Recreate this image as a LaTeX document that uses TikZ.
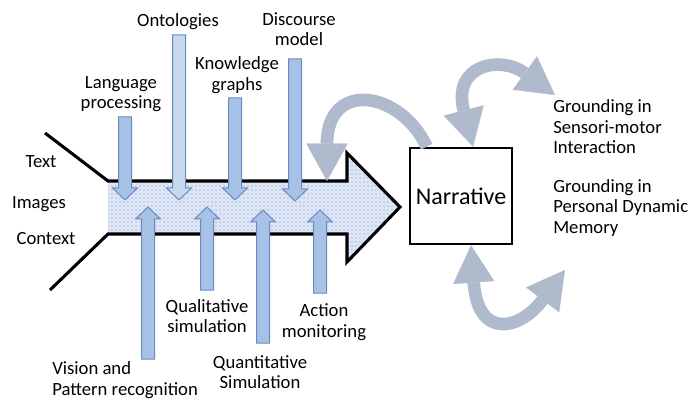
\documentclass[tikz,border=0pt]{standalone}
\usepackage{fontspec}
\setmainfont{Carlito}
\usetikzlibrary{arrows.meta,patterns}
\definecolor{barfill}{RGB}{166,194,230}
\definecolor{barline}{RGB}{108,138,190}
\definecolor{ontofill}{RGB}{198,215,238}
\definecolor{loopgray}{RGB}{175,187,204}
\definecolor{spinefill}{RGB}{222,230,245}
\definecolor{spinedots}{RGB}{120,145,210}
\tikzset{lbl/.style={align=center,inner sep=0pt,font=\fontsize{14}{15.4}\selectfont}}
\tikzset{bar/.style={fill=barfill,draw=barline,line width=0.75pt}}
\tikzset{spine/.style={draw=black,line width=2.3pt,line join=miter}}
\tikzset{fatarr/.style={draw=loopgray,line width=9.5pt,
  arrows={Triangle[width=31pt,length=28pt,line width=0.1pt]-Triangle[width=31pt,length=28pt,line width=0.1pt]}}}
\tikzset{fathead/.style={draw=loopgray,line width=9.5pt,
  arrows={-Triangle[width=31pt,length=28pt,line width=0.1pt]}}}

% block arrows: x, tail y, tip y
\newcommand{\dnarr}[4][]{\draw[bar,#1] (#2-6.5,#3) -- (#2+6.5,#3) -- (#2+6.5,#4-12) -- (#2+12.5,#4-12)
  -- (#2,#4) -- (#2-12.5,#4-12) -- (#2-6.5,#4-12) -- cycle;}
\newcommand{\uparr}[4][]{\draw[bar,#1] (#2-6.5,#3) -- (#2+6.5,#3) -- (#2+6.5,#4+12) -- (#2+12.5,#4+12)
  -- (#2,#4) -- (#2-12.5,#4+12) -- (#2-6.5,#4+12) -- cycle;}

\begin{document}
\begin{tikzpicture}[x=0.75pt,y=-0.75pt]
  \useasboundingbox (0,0) rectangle (691,402);

  % the fish body
  \fill[spinefill] (108,181) -- (347,181) -- (347,153) -- (400,207) -- (347,262) -- (347,234) -- (108,234) -- cycle;
  \path[pattern=dots,pattern color=spinedots]
    (108,181) -- (347,181) -- (347,153) -- (400,207) -- (347,262) -- (347,234) -- (108,234) -- cycle;
  \draw[spine] (45,133) -- (108,181) -- (347,181) -- (347,153) -- (400,207)
    -- (347,262) -- (347,234) -- (108,234) -- (50,290);

  \node[lbl] (text) at (41,162) {Text};
  \node[lbl] (img) at (39,204) {Images};
  \node[lbl] (ctx) at (46,239) {Context};

  % inputs from above
  \dnarr{125}{117}{200}
  \dnarr[fill=ontofill]{179}{35}{200}
  \dnarr{235}{98}{200}
  \dnarr{295}{59}{201}
  \node[lbl] (lang) at (121,94) {Language\\processing};
  \node[lbl] (onto) at (178,22) {Ontologies};
  \node[lbl] (know) at (237,75) {Knowledge\\graphs};
  \node[lbl] (disc) at (299,29) {Discourse\\model};

  % inputs from below
  \uparr{148}{359}{207}
  \uparr{207}{290}{207}
  \uparr{263}{343}{210}
  \uparr{320}{293}{210}
  \node[lbl,align=left,anchor=west] (vis) at (52,380) {Vision and\\Pattern recognition};
  \node[lbl] (qual) at (207,316) {Qualitative\\simulation};
  \node[lbl] (quant) at (260,372) {Quantitative\\Simulation};
  \node[lbl] (act) at (324,322) {Action\\monitoring};

  \node[draw,line width=2pt,minimum width=76.5pt,minimum height=72pt,inner sep=0pt,
    font=\fontsize{18}{20}\selectfont] (narr) at (461,196) {Narrative};

  \node[lbl,align=left,anchor=west] (sens) at (553,127) {Grounding in\\Sensori-motor\\Interaction};
  \node[lbl,align=left,anchor=west] (mem) at (553,208) {Grounding in\\Personal Dynamic\\Memory};

  \coordinate (body) at (327,181);
  \coordinate (s1) at (555,95);
  \coordinate (m1) at (565,270);

  \draw[fathead] ([xshift=13.5pt]narr.north west) .. controls (400,90) and (327,80) .. (body);
  \draw[fatarr] ([xshift=9pt]narr.north) .. controls (452,65) and (500,55) .. (s1);
  \draw[fatarr] ([xshift=7.5pt]narr.south) .. controls (478,340) and (520,330) .. (m1);
\end{tikzpicture}
\end{document}
